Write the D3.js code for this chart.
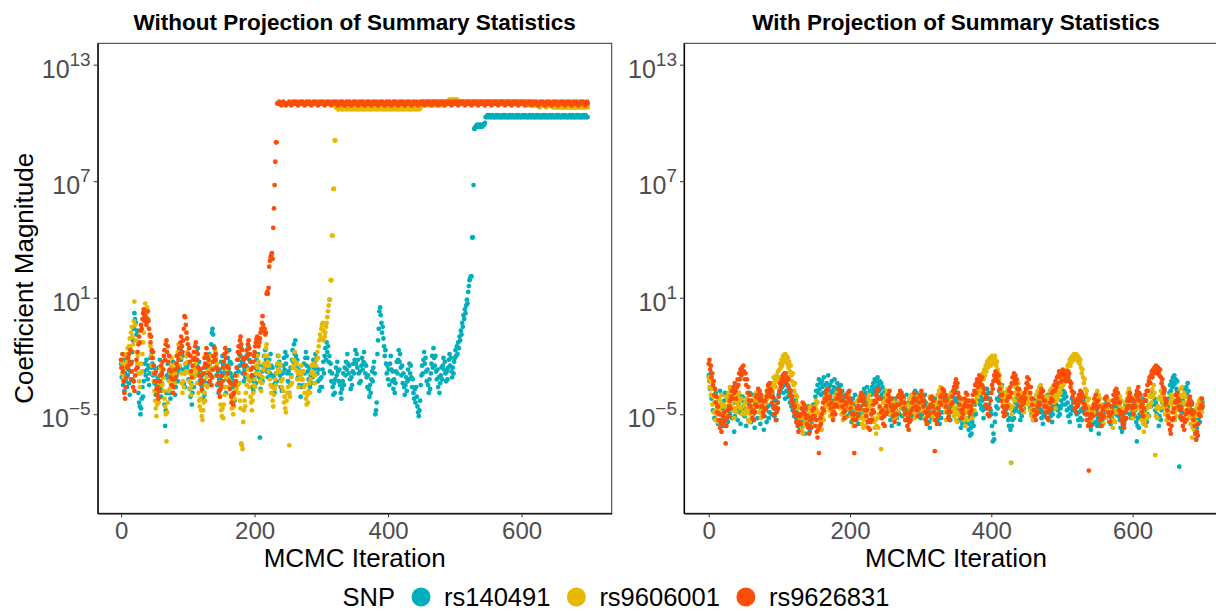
<!DOCTYPE html>
<html>
  <head>
    <meta http-equiv="Content-Type" content="text/html;charset=utf-8">
    <title>Coefficient magnitude by MCMC iteration</title>
    <script src="https://cdn.jsdelivr.net/npm/d3@7"></script>
    <style type="text/css">
body {
    margin: 0;
    background: #fff;
}
svg text {
    font-family: "Liberation Sans", Arial, Helvetica, sans-serif;
}
.border {
    fill: none;
    stroke: #333;
    stroke-width: 1px;
}
.axis path {
    stroke: #000;
    stroke-width: 1.2px;
}
.axis line {
    stroke: #333;
    stroke-width: 1px;
}
    </style>
  </head>
  <body>
    <script type="text/javascript">
// ---- data: log10 of coefficient magnitude at each MCMC iteration (0..699) ----
var iterStep = 1;
var snps = ['rs140491', 'rs9606001', 'rs9626831'];
var snpColors = ['#00AFBB', '#E7B800', '#FC4E07'];
var panelTitles = ['Without Projection of Summary Statistics', 'With Projection of Summary Statistics'];
var xTicks = [0, 200, 400, 600];
var yTickExps = [-5, 1, 7, 13];

// without projection
var noProj140491 = [
  -2.4,-3.1,-2.6,-3.5,-2.2,-3.8,-2.9,-3.3,-2.5,-3.6,-3.0,-2.7,-3.4,-4.0,-2.8,-3.2,-2.3,-1.8,-1.2,-0.6,0.2,-0.1,-0.3,-0.9,-0.7,-2.6,-3.9,-4.4,-4.6,-5.0,-4.7,-4.2,-3.6,-4.1,-3.3,-2.8,-2.4,-3.0,-2.2,-2.7,-3.2,-2.5,-3.5,-2.9,-2.1,-2.6,-1.8,-2.4,-3.0,-2.6,
  -3.4,-2.9,-4.0,-3.5,-4.3,-3.1,-2.6,-3.3,-2.2,-3.6,-4.1,-3.4,-3.8,-2.7,-3.1,-4.5,-5.6,-4.8,-3.9,-3.0,-2.4,-3.2,-2.8,-3.9,-4.2,-3.5,-2.7,-3.1,-2.3,-2.9,-3.4,-4.0,-3.6,-3.0,-2.5,-3.3,-2.8,-2.1,-2.6,-1.7,-2.2,-1.5,-2.0,-2.7,-3.4,-2.9,-3.6,-2.5,-2.0,-2.6,
  -2.4,-3.2,-2.8,-3.7,-4.1,-3.4,-4.5,-3.9,-3.1,-3.6,-2.6,-3.0,-2.2,-1.8,-2.5,-1.6,-2.9,-2.3,-3.3,-2.7,-3.5,-3.0,-3.8,-4.2,-3.3,-4.0,-3.5,-2.9,-3.4,-2.6,-2.1,-2.7,-1.9,-2.4,-2.0,-1.4,-0.8,-0.6,-0.9,-1.5,-2.0,-2.6,-2.2,-3.0,-3.5,-2.8,-3.9,-3.2,-2.7,-3.1,
  -2.3,-2.9,-2.0,-2.5,-3.0,-3.6,-2.8,-3.9,-3.2,-2.6,-2.1,-2.7,-1.7,-2.3,-2.9,-2.4,-3.1,-3.6,-4.0,-3.3,-4.3,-3.5,-2.9,-3.4,-2.6,-2.2,-2.8,-1.9,-2.5,-2.0,-1.6,-2.3,-2.9,-2.4,-3.3,-2.7,-3.1,-2.5,-2.0,-2.6,-1.9,-1.5,-2.2,-2.7,-2.3,-3.1,-3.6,-3.0,-3.8,-3.3,
  -3.0,-2.6,-3.4,-2.2,-2.8,-1.9,-2.5,-3.1,-6.2,-3.7,-3.2,-2.8,-3.3,-2.5,-2.0,-2.6,-1.7,-2.2,-2.8,-2.4,-3.1,-2.7,-2.2,-2.9,-1.9,-2.5,-3.0,-2.6,-3.5,-3.1,-3.9,-3.4,-2.9,-3.3,-2.5,-2.0,-2.7,-2.3,-3.0,-3.6,-3.2,-3.8,-2.9,-2.5,-2.1,-2.7,-1.8,-2.4,-2.0,-2.9,
  -3.3,-2.8,-3.9,-3.4,-2.6,-3.0,-2.2,-1.7,-2.3,-1.4,-1.9,-1.2,-2.0,-2.6,-2.2,-3.1,-2.7,-3.5,-3.0,-4.1,-3.6,-3.2,-2.8,-3.5,-2.4,-2.9,-2.1,-1.8,-2.5,-2.1,-2.8,-3.2,-2.6,-3.6,-3.0,-3.4,-2.5,-3.1,-2.2,-2.7,-2.3,-1.9,-2.6,-2.1,-2.9,-3.3,-2.7,-3.8,-3.2,-3.6,
  -3.1,-3.6,-2.7,-2.3,-2.9,-2.0,-1.6,-2.2,-1.3,-1.8,-1.5,-2.3,-2.0,-2.8,-2.4,-3.3,-2.9,-3.6,-4.0,-3.4,-3.9,-3.2,-2.6,-3.0,-2.3,-2.8,-3.3,-2.7,-3.5,-3.9,-4.2,-3.7,-3.3,-2.9,-3.5,-2.6,-3.0,-2.3,-2.7,-1.9,-2.4,-2.9,-2.5,-3.2,-3.7,-3.1,-3.5,-2.8,-2.4,-2.9,
  -2.2,-1.7,-2.4,-1.9,-2.6,-2.2,-2.9,-3.4,-2.8,-3.3,-2.5,-2.1,-2.7,-2.3,-1.8,-2.4,-2.9,-2.5,-3.1,-3.6,-3.0,-3.7,-4.1,-3.5,-3.9,-3.2,-2.8,-3.3,-2.6,-2.3,-2.9,-5.0,-4.8,-4.4,-1.9,-1.2,-0.6,0.3,0.5,0.1,-0.3,-0.8,-0.5,-1.1,-1.5,-2.0,-1.7,-2.4,-2.9,-2.5,
  -3.2,-2.7,-3.5,-2.4,-2.0,-2.7,-3.3,-2.8,-3.7,-3.2,-3.9,-3.4,-2.8,-2.3,-2.9,-2.2,-1.7,-2.3,-1.9,-2.6,-3.0,-2.5,-3.4,-2.9,-3.6,-4.0,-3.5,-3.1,-3.8,-3.3,-2.7,-3.2,-2.4,-2.9,-2.5,-3.1,-3.6,-3.2,-3.9,-4.2,-3.7,-4.4,-3.6,-4.1,-4.6,-4.9,-5.1,-4.8,-4.3,-3.5,
  -3.0,-2.5,-2.9,-2.2,-1.8,-2.4,-2.1,-2.8,-3.3,-2.7,-3.5,-3.9,-3.2,-3.7,-2.9,-2.4,-2.0,-2.6,-1.6,-2.1,-2.5,-2.0,-2.8,-3.2,-2.7,-3.6,-3.1,-3.9,-3.4,-3.0,-2.6,-3.2,-2.5,-2.1,-2.7,-2.3,-2.9,-3.3,-2.8,-3.2,-2.6,-2.2,-1.9,-2.5,-2.1,-2.8,-3.1,-2.6,-2.9,-2.3,
  -2.1,-1.7,-2.0,-1.5,-1.9,-1.3,-1.6,-1.0,-1.2,-0.7,-0.9,-0.3,-0.5,0.1,-0.1,0.4,0.2,0.6,0.9,0.7,1.3,1.6,1.9,2.0,2.1,2.1,4.1,4.1,6.8,9.7,9.7,9.8,9.8,9.9,9.9,9.8,9.9,9.9,9.8,9.9,9.9,9.8,9.9,9.9,9.9,10.0,10.3,10.3,10.3,10.4,
  10.3,10.3,10.4,10.3,10.3,10.3,10.4,10.3,10.3,10.3,10.3,10.3,10.4,10.3,10.3,10.3,10.4,10.3,10.3,10.3,10.3,10.3,10.4,10.3,10.3,10.3,10.4,10.3,10.3,10.3,10.3,10.3,10.4,10.3,10.3,10.3,10.4,10.3,10.3,10.3,10.3,10.3,10.4,10.3,10.3,10.3,10.4,10.3,10.3,10.3,
  10.3,10.3,10.4,10.3,10.3,10.3,10.4,10.3,10.3,10.3,10.3,10.3,10.4,10.3,10.3,10.3,10.4,10.3,10.3,10.3,10.3,10.3,10.4,10.3,10.3,10.3,10.4,10.3,10.3,10.3,10.3,10.3,10.4,10.3,10.3,10.3,10.4,10.3,10.3,10.3,10.3,10.3,10.4,10.3,10.3,10.3,10.4,10.3,10.3,10.3,
  10.3,10.3,10.4,10.3,10.3,10.3,10.4,10.3,10.3,10.3,10.3,10.3,10.4,10.3,10.3,10.3,10.4,10.3,10.3,10.3,10.3,10.3,10.4,10.3,10.3,10.3,10.4,10.3,10.3,10.3,10.3,10.3,10.4,10.3,10.3,10.3,10.4,10.3,10.3,10.3,10.3,10.3,10.4,10.3,10.3,10.3,10.4,10.3,10.3,10.3
];
var noProj9606001 = [
  -2.6,-2.3,-2.9,-2.4,-3.1,-2.6,-2.0,-2.5,-1.9,-2.3,-1.6,-2.1,-1.5,-1.1,-1.6,-0.8,-0.5,-1.0,-1.4,-0.2,0.8,-0.4,-1.2,-1.8,-2.4,-2.0,-2.9,-3.3,-3.6,-2.9,-2.4,-2.8,-1.9,-1.3,-0.8,-0.2,0.7,0.4,0.2,0.5,0.3,-0.1,-0.6,-1.0,-1.5,-2.0,-2.5,-2.1,-2.9,-3.3,
  -3.8,-4.3,-4.7,-5.1,-4.5,-3.9,-4.4,-3.5,-3.0,-2.6,-3.3,-2.8,-3.5,-3.1,-3.8,-4.2,-4.6,-5.0,-6.4,-4.9,-4.4,-3.8,-3.3,-3.7,-2.9,-2.5,-2.1,-2.6,-3.0,-2.7,-3.4,-2.9,-2.4,-2.0,-2.6,-1.8,-1.4,-2.0,-2.5,-2.1,-2.9,-3.4,-3.9,-3.3,-3.6,-2.9,-2.4,-2.8,-2.0,-1.8,
  -2.3,-2.8,-3.3,-2.9,-3.7,-4.0,-3.5,-3.0,-2.6,-3.1,-2.2,-2.7,-2.4,-2.9,-3.4,-3.0,-3.9,-4.3,-4.6,-4.2,-4.8,-5.1,-5.3,-4.8,-4.4,-3.9,-4.3,-3.5,-3.1,-3.6,-2.8,-2.4,-2.0,-2.6,-2.3,-3.0,-3.5,-3.1,-2.7,-2.2,-2.6,-1.8,-2.1,-2.6,-2.4,-3.0,-3.4,-3.8,-4.1,-4.5,
  -4.8,-5.1,-4.7,-5.2,-4.5,-4.0,-3.6,-3.1,-2.7,-3.0,-2.5,-3.2,-3.6,-3.3,-4.0,-4.4,-4.7,-4.3,-5.0,-4.6,-4.2,-3.8,-3.3,-3.7,-3.0,-3.5,-3.9,-3.4,-4.3,-4.7,-6.5,-6.6,-6.8,-5.4,-4.8,-4.3,-4.6,-3.9,-3.5,-3.0,-2.7,-3.2,-3.6,-3.3,-4.1,-4.4,-4.8,-4.3,-3.9,-3.5,
  -3.2,-3.6,-2.9,-2.5,-2.0,-2.6,-2.3,-2.9,-3.3,-3.0,-3.8,-3.4,-3.1,-2.7,-2.4,-2.0,-2.5,-1.6,-1.4,-2.0,-2.3,-2.8,-2.5,-3.2,-3.5,-3.9,-3.6,-4.3,-4.6,-4.0,-3.7,-3.2,-3.5,-2.9,-2.4,-2.7,-2.0,-2.4,-2.8,-2.5,-3.3,-3.6,-3.2,-3.8,-4.4,-4.1,-4.7,-4.9,-4.3,-3.9,
  -3.6,-3.9,-6.6,-4.1,-3.5,-3.1,-3.4,-2.6,-2.2,-2.5,-1.8,-2.3,-2.7,-2.4,-3.2,-2.9,-3.6,-3.2,-2.8,-3.1,-2.5,-2.9,-3.2,-2.8,-3.6,-3.9,-3.5,-4.2,-4.5,-4.0,-4.4,-3.8,-3.4,-3.9,-3.2,-2.9,-2.5,-2.8,-2.4,-3.0,-3.4,-3.0,-2.5,-2.2,-1.8,-2.1,-1.5,-1.2,-0.9,-1.1,
  -0.6,-0.4,-0.3,-0.7,-1.2,-1.0,-0.8,-0.5,-0.3,0.0,0.3,0.6,0.9,0.9,1.9,1.9,4.2,4.2,6.6,6.6,9.1,9.1,10.8,10.8,10.8,10.7,10.7,10.8,10.8,10.8,10.8,10.7,10.7,10.8,10.8,10.8,10.8,10.7,10.8,10.8,10.7,10.8,10.8,10.8,10.7,10.8,10.8,10.7,10.8,10.8,
  10.8,10.7,10.8,10.8,10.7,10.8,10.8,10.7,10.8,10.8,10.8,10.7,10.8,10.8,10.7,10.8,10.8,10.7,10.8,10.8,10.8,10.7,10.8,10.8,10.7,10.8,10.8,10.7,10.8,10.8,10.8,10.7,10.8,10.8,10.7,10.8,10.8,10.7,10.8,10.8,10.8,10.7,10.8,10.8,10.7,10.8,10.8,10.7,10.8,10.8,
  10.8,10.7,10.8,10.8,10.7,10.8,10.8,10.7,10.8,10.8,10.8,10.7,10.8,10.8,10.7,10.8,10.8,10.7,10.8,10.8,10.8,10.7,10.8,10.8,10.7,10.8,10.8,10.7,10.8,10.8,10.8,10.7,10.8,10.8,10.7,10.8,10.8,10.7,10.8,10.8,10.8,10.7,10.8,10.8,10.7,10.8,10.8,10.7,10.8,10.8,
  10.9,11.0,11.0,11.1,11.0,11.0,11.1,11.0,11.0,11.1,10.9,11.0,11.0,11.1,11.0,11.0,11.1,11.0,11.0,11.1,10.9,11.0,11.0,11.1,11.0,11.0,11.1,11.0,11.0,11.1,10.9,11.0,11.0,11.1,11.0,11.0,11.1,11.0,11.0,11.1,11.0,11.1,11.2,11.1,11.2,11.1,11.2,11.1,11.2,11.1,
  11.2,11.1,11.2,11.1,11.2,11.1,11.1,11.0,11.1,11.0,11.0,11.1,11.0,11.0,11.1,11.0,11.0,11.1,11.0,11.0,11.0,11.1,11.0,11.0,11.1,11.0,11.0,11.1,11.0,11.0,11.0,11.1,11.0,11.0,11.1,11.0,11.0,11.1,11.0,11.0,11.0,11.1,11.0,11.0,11.1,11.0,11.0,11.1,11.0,11.0,
  11.1,11.0,11.0,11.1,11.0,11.0,11.1,11.0,11.0,11.1,11.1,11.0,11.0,11.1,11.0,11.0,11.1,11.0,11.0,11.1,11.1,11.0,11.0,11.1,11.0,11.0,11.1,11.0,11.0,11.1,11.1,11.0,11.0,11.1,11.0,11.0,11.1,11.0,11.0,11.1,11.1,11.0,11.0,11.1,11.0,11.0,11.1,11.0,11.0,11.1,
  11.0,11.0,11.1,11.0,11.0,11.1,11.0,11.0,11.0,10.9,11.0,11.0,11.1,11.0,11.0,11.1,11.0,11.0,11.0,10.9,11.0,10.9,10.9,11.0,10.9,10.9,10.9,10.8,10.9,10.9,11.0,10.9,10.9,11.0,10.9,10.9,10.9,10.8,10.9,10.9,11.0,10.9,10.9,11.0,10.9,10.9,10.9,10.8,10.9,10.9,
  10.9,10.8,10.9,10.9,10.8,10.9,10.8,10.9,10.9,10.8,10.9,10.8,10.9,10.9,10.8,10.9,10.8,10.9,10.9,10.8,10.9,10.8,10.9,10.9,10.8,10.9,10.8,10.9,10.9,10.8,10.9,10.8,10.9,10.9,10.8,10.9,10.8,10.9,10.9,10.8,10.9,10.8,10.9,10.9,10.8,10.9,10.8,10.9,10.9,10.8
];
var noProj9626831 = [
  -2.2,-2.6,-1.9,-2.8,-3.3,-3.9,-4.2,-3.6,-3.1,-2.6,-2.1,-2.5,-1.9,-2.3,-1.7,-2.4,-2.8,-3.2,-3.6,-3.3,-3.8,-3.0,-2.7,-2.2,-2.6,-1.8,-1.4,-1.0,-1.3,-0.7,-0.4,-0.6,-0.1,0.2,0.4,0.1,-0.2,0.0,-0.4,-0.1,0.3,-0.2,-0.6,-0.9,-1.3,-1.0,-1.7,-2.1,-1.8,-2.5,
  -2.9,-3.3,-2.8,-3.7,-4.0,-3.6,-4.2,-3.8,-3.3,-3.0,-2.5,-2.9,-2.3,-2.7,-2.0,-1.7,-2.2,-1.4,-1.2,-1.8,-1.5,-2.3,-2.0,-2.7,-3.1,-2.8,-3.5,-3.2,-3.9,-3.6,-3.2,-2.7,-3.1,-2.4,-2.0,-2.6,-2.2,-1.6,-1.9,-1.3,-1.0,-1.5,-1.8,-1.2,-0.6,0.05,0.0,-0.4,-0.8,-1.1,
  -1.4,-1.9,-1.6,-2.3,-2.0,-2.8,-3.1,-2.5,-2.2,-1.8,-2.1,-1.5,-1.3,-1.8,-2.2,-1.9,-2.6,-3.0,-2.7,-3.4,-3.2,-3.7,-3.3,-2.9,-2.6,-2.1,-2.4,-1.9,-1.6,-2.0,-2.5,-2.2,-2.9,-3.3,-3.0,-3.5,-3.1,-2.7,-2.3,-2.0,-1.6,-2.2,-1.9,-2.6,-3.0,-2.7,-3.4,-3.8,-4.1,-3.7,
  -3.5,-3.0,-3.3,-2.6,-2.3,-1.9,-1.6,-2.1,-1.8,-2.5,-2.9,-2.6,-3.3,-3.7,-3.4,-4.1,-4.4,-4.0,-4.5,-3.9,-3.5,-3.0,-3.3,-2.6,-2.2,-1.8,-1.5,-1.9,-1.2,-1.0,-1.4,-1.7,-2.1,-2.5,-2.2,-2.9,-2.5,-2.1,-1.7,-2.0,-1.4,-1.2,-1.6,-1.9,-2.3,-2.7,-3.0,-2.6,-2.3,-2.0,
  -1.8,-1.5,-1.3,-1.1,-1.0,-1.2,-1.5,-1.3,-1.1,-0.8,-0.6,-0.3,0.05,-0.4,-0.7,-0.6,-0.9,-0.8,1.2,1.3,1.2,1.5,2.6,2.9,3.1,3.2,3.3,3.0,4.6,5.6,6.8,8.0,9.0,9.0,11.0,11.0,11.0,11.1,11.0,11.0,10.9,11.0,11.0,11.1,11.0,11.0,11.0,10.9,11.0,11.0,
  11.0,11.0,11.1,11.0,11.0,10.9,11.0,11.0,11.1,11.0,11.0,11.0,11.1,11.0,11.0,10.9,11.0,11.0,11.1,11.0,11.0,11.0,11.1,11.0,11.0,10.9,11.0,11.0,11.1,11.0,11.0,11.0,11.1,11.0,11.0,10.9,11.0,11.0,11.1,11.0,11.0,11.0,11.1,11.0,11.0,10.9,11.0,11.0,11.1,11.0,
  11.0,11.0,11.1,11.0,11.0,10.9,11.0,11.0,11.1,11.0,11.0,11.0,11.1,11.0,11.0,10.9,11.0,11.0,11.1,11.0,11.0,11.0,11.1,11.0,11.0,10.9,11.0,11.0,11.1,11.0,11.0,11.0,11.1,11.0,11.0,10.9,11.0,11.0,11.1,11.0,11.0,11.0,11.1,11.0,11.0,10.9,11.0,11.0,11.1,11.0,
  11.0,11.0,11.1,11.0,11.0,10.9,11.0,11.0,11.1,11.0,11.0,11.0,11.1,11.0,11.0,10.9,11.0,11.0,11.1,11.0,11.0,11.0,11.1,11.0,11.0,10.9,11.0,11.0,11.1,11.0,11.0,11.0,11.1,11.0,11.0,10.9,11.0,11.0,11.1,11.0,11.0,11.0,11.1,11.0,11.0,10.9,11.0,11.0,11.1,11.0,
  11.0,11.0,11.1,11.0,11.0,10.9,11.0,11.0,11.1,11.0,11.0,11.0,11.1,11.0,11.0,10.9,11.0,11.0,11.1,11.0,11.0,11.0,11.1,11.0,11.0,10.9,11.0,11.0,11.1,11.0,11.0,11.0,11.1,11.0,11.0,10.9,11.0,11.0,11.1,11.0,11.0,11.0,11.1,11.0,11.0,10.9,11.0,11.0,11.1,11.0,
  11.0,11.0,11.1,11.0,11.0,10.9,11.0,11.0,11.1,11.0,11.0,11.0,11.1,11.0,11.0,10.9,11.0,11.0,11.1,11.0,11.0,11.0,11.1,11.0,11.0,10.9,11.0,11.0,11.1,11.0,11.0,11.0,11.1,11.0,11.0,10.9,11.0,11.0,11.1,11.0,11.0,11.0,11.1,11.0,11.0,10.9,11.0,11.0,11.1,11.0,
  11.0,11.0,11.1,11.0,11.0,10.9,11.0,11.0,11.1,11.0,11.0,11.0,11.1,11.0,11.0,10.9,11.0,11.0,11.1,11.0,11.0,11.0,11.1,11.0,11.0,10.9,11.0,11.0,11.1,11.0,11.0,11.0,11.1,11.0,11.0,10.9,11.0,11.0,11.1,11.0,11.0,11.0,11.1,11.0,11.0,10.9,11.0,11.0,11.1,11.0,
  11.0,11.0,11.1,11.0,11.0,10.9,11.0,11.0,11.1,11.0,11.0,11.0,11.1,11.0,11.0,10.9,11.0,11.0,11.1,11.0,11.0,11.0,11.1,11.0,11.0,10.9,11.0,11.0,11.1,11.0,11.0,11.0,11.1,11.0,11.0,10.9,11.0,11.0,11.1,11.0,11.0,11.0,11.1,11.0,11.0,10.9,11.0,11.0,11.1,11.0,
  11.0,11.0,11.1,11.0,11.0,10.9,11.0,11.0,11.1,11.0,11.0,11.0,11.1,11.0,11.0,10.9,11.0,11.0,11.1,11.0,11.0,11.0,11.1,11.0,11.0,10.9,11.0,11.0,11.1,11.0,11.0,11.0,11.1,11.0,11.0,10.9,11.0,11.0,11.1,11.0,11.0,11.0,11.1,11.0,11.0,10.9,11.0,11.0,11.1,11.0,
  11.0,11.0,11.1,11.0,11.0,10.9,11.0,11.0,11.1,11.0,11.0,11.0,11.1,11.0,11.0,10.9,11.0,11.0,11.1,11.0,11.0,11.0,11.1,11.0,11.0,10.9,11.0,11.0,11.1,11.0,11.0,11.0,11.1,11.0,11.0,10.9,11.0,11.0,11.1,11.0,11.0,11.0,11.1,11.0,11.0,10.9,11.0,11.0,11.1,11.0
];

// with projection
var proj140491 = [
  -3.0,-3.3,-3.7,-2.9,-4.2,-3.6,-4.8,-4.1,-5.2,-4.4,-3.9,-5.0,-4.6,-5.5,-4.2,-4.9,-3.8,-4.5,-5.3,-4.0,-4.7,-5.6,-4.3,-3.9,-5.1,-4.6,-4.0,-5.4,-4.8,-4.2,-5.0,-3.7,-4.5,-5.2,-4.1,-4.8,-5.9,-5.1,-4.4,-3.9,-4.7,-5.3,-4.5,-4.0,-4.9,-5.5,-4.3,-4.8,-4.1,-5.0,
  -4.4,-5.1,-4.7,-5.6,-4.2,-4.9,-5.3,-4.5,-3.9,-4.8,-5.4,-4.6,-4.0,-5.0,-4.3,-5.7,-4.9,-4.1,-4.6,-5.2,-4.4,-3.8,-4.9,-5.5,-4.7,-4.2,-5.0,-4.5,-5.8,-5.1,-4.3,-4.8,-5.4,-4.0,-4.6,-5.2,-4.9,-4.1,-4.5,-5.0,-3.9,-4.6,-4.2,-5.1,-4.7,-4.3,-5.3,-4.8,-4.4,-4.0,
  -3.9,-3.4,-3.7,-3.1,-3.6,-3.3,-3.9,-3.5,-4.2,-3.2,-3.8,-3.5,-4.1,-3.6,-3.9,-4.4,-4.0,-4.6,-4.2,-4.8,-4.5,-5.1,-4.7,-4.3,-5.2,-4.9,-5.5,-4.6,-5.0,-5.8,-5.3,-4.7,-5.1,-5.6,-4.9,-5.4,-6.0,-5.2,-4.8,-5.5,-5.0,-4.6,-5.3,-5.9,-5.1,-4.7,-5.4,-5.0,-4.5,-5.2,
  -4.6,-4.1,-3.8,-4.4,-3.5,-3.9,-3.2,-3.7,-3.4,-4.0,-3.3,-3.6,-3.9,-3.1,-3.5,-4.2,-3.8,-3.4,-3.7,-3.0,-3.6,-4.1,-3.5,-3.9,-3.3,-3.8,-4.3,-3.6,-3.2,-3.9,-4.4,-3.7,-3.4,-4.0,-3.6,-4.5,-3.9,-3.5,-4.1,-3.8,-4.6,-4.2,-4.9,-4.4,-4.0,-4.7,-5.1,-4.3,-4.8,-4.2,
  -5.0,-4.6,-5.4,-4.9,-4.2,-5.1,-4.5,-4.0,-4.8,-5.3,-4.4,-4.9,-5.5,-4.7,-4.1,-4.6,-5.0,-4.3,-4.8,-4.0,-3.7,-4.4,-3.9,-4.2,-3.6,-4.1,-4.7,-4.3,-3.8,-4.5,-4.0,-3.6,-3.9,-3.4,-3.8,-3.2,-3.6,-3.3,-3.9,-3.1,-3.5,-3.8,-3.3,-3.7,-3.4,-4.0,-3.6,-4.2,-3.9,-4.4,
  -3.8,-4.3,-4.0,-4.7,-4.4,-5.0,-4.6,-5.3,-4.9,-5.6,-5.1,-4.5,-5.0,-4.6,-4.2,-4.8,-5.2,-4.4,-4.9,-5.5,-5.0,-4.4,-4.1,-4.7,-5.1,-4.6,-4.2,-4.8,-5.3,-4.5,-4.0,-4.7,-5.0,-4.4,-5.4,-4.9,-4.3,-4.6,-5.1,-4.5,-4.0,-4.5,-3.8,-4.2,-3.9,-4.5,-4.1,-4.8,-4.4,-5.0,
  -5.2,-4.7,-5.0,-4.5,-4.1,-4.6,-4.0,-4.4,-4.9,-4.5,-5.1,-4.8,-5.4,-5.7,-5.0,-4.6,-5.2,-4.8,-4.3,-4.7,-4.2,-4.6,-4.4,-4.9,-5.3,-4.7,-5.0,-5.5,-4.9,-5.2,-4.5,-4.9,-4.3,-4.1,-4.6,-4.0,-4.4,-4.8,-4.2,-4.7,-5.1,-4.6,-5.3,-4.8,-4.4,-4.7,-4.1,-3.9,-4.3,-3.8,
  -4.2,-4.7,-4.4,-5.0,-4.6,-5.3,-5.0,-5.7,-5.2,-5.5,-4.9,-5.3,-4.7,-4.4,-4.9,-5.4,-4.8,-5.2,-5.8,-5.5,-6.1,-5.7,-6.0,-5.4,-5.1,-5.6,-4.9,-4.5,-5.0,-4.4,-4.1,-3.8,-4.3,-3.9,-4.5,-4.1,-4.7,-4.3,-4.8,-5.2,-4.6,-4.2,-4.7,-4.0,-3.7,-4.2,-3.9,-4.5,-4.2,-4.8,
  -5.0,-5.6,-6.4,-6.0,-6.3,-5.4,-5.0,-4.6,-4.2,-4.7,-4.3,-3.8,-4.1,-3.6,-3.9,-3.5,-4.0,-4.4,-3.9,-4.3,-4.8,-4.5,-5.0,-4.7,-5.3,-5.6,-5.2,-5.8,-7.5,-5.6,-5.3,-4.9,-5.2,-4.7,-4.4,-4.8,-4.2,-4.6,-4.0,-4.5,-4.9,-5.3,-4.8,-5.1,-4.6,-4.3,-4.7,-4.2,-3.9,-4.4,
  -3.8,-4.2,-3.9,-4.5,-4.1,-4.7,-4.4,-5.0,-4.6,-5.3,-4.9,-4.5,-4.9,-4.3,-4.0,-4.5,-3.8,-4.2,-4.7,-4.4,-4.9,-5.2,-4.8,-5.5,-5.1,-4.6,-5.0,-4.5,-4.1,-4.6,-4.0,-4.4,-4.9,-4.5,-5.1,-4.8,-5.4,-5.0,-4.6,-4.3,-4.7,-4.1,-4.5,-4.2,-4.8,-5.1,-4.6,-5.0,-4.7,-4.3,
  -4.0,-4.5,-3.8,-4.2,-3.9,-4.5,-4.1,-4.8,-4.4,-5.1,-4.7,-5.4,-5.0,-4.6,-4.2,-4.8,-4.4,-3.9,-4.3,-4.7,-4.4,-5.0,-4.6,-5.3,-4.9,-5.6,-5.2,-4.8,-5.3,-4.7,-4.3,-4.9,-4.5,-4.1,-4.6,-5.0,-4.7,-5.3,-4.9,-5.5,-5.1,-5.8,-5.4,-5.0,-5.5,-4.9,-4.5,-5.0,-5.4,-4.8,
  -5.6,-5.2,-6.0,-5.5,-5.1,-5.6,-4.9,-5.3,-4.7,-5.0,-4.5,-4.2,-4.7,-4.3,-4.8,-4.4,-4.9,-5.4,-5.0,-5.5,-4.9,-5.2,-4.6,-4.3,-4.8,-4.4,-5.0,-4.6,-4.2,-4.8,-5.1,-4.6,-5.3,-5.7,-5.2,-5.9,-5.4,-5.0,-5.5,-4.9,-4.5,-4.9,-4.3,-4.7,-4.2,-4.6,-5.0,-4.5,-5.2,-4.8,
  -4.4,-4.9,-4.5,-5.1,-4.8,-5.4,-6.4,-5.6,-5.2,-5.7,-5.0,-4.6,-5.1,-4.5,-4.2,-4.7,-4.3,-4.8,-5.2,-4.7,-5.4,-5.0,-4.6,-5.1,-4.5,-4.1,-4.6,-4.0,-4.4,-3.9,-4.5,-4.2,-4.8,-4.4,-5.0,-4.6,-5.2,-5.6,-5.1,-4.7,-5.3,-4.8,-4.4,-4.0,-4.5,-3.8,-4.3,-4.7,-4.4,-5.0,
  -4.6,-4.2,-3.9,-3.5,-3.8,-3.3,-3.6,-3.1,-3.5,-3.0,-3.4,-3.2,-3.7,-3.3,-3.9,-4.4,-7.7,-4.8,-5.2,-4.6,-4.9,-4.3,-4.0,-4.5,-3.7,-4.1,-3.6,-3.9,-3.4,-3.8,-4.2,-4.6,-4.3,-4.9,-4.5,-5.2,-4.8,-5.6,-5.3,-6.0,-6.3,-5.7,-6.1,-5.2,-4.9,-5.4,-4.6,-4.2,-4.7,-4.4
];
var proj9606001 = [
  -3.1,-3.6,-3.3,-4.0,-3.7,-4.5,-4.1,-4.9,-4.4,-5.3,-4.8,-5.0,-4.5,-5.4,-4.7,-4.2,-4.9,-4.4,-4.0,-4.6,-5.1,-4.5,-5.5,-5.0,-4.6,-4.1,-4.7,-4.3,-3.9,-4.4,-3.6,-4.1,-3.8,-4.5,-4.1,-4.8,-5.2,-4.7,-4.3,-4.9,-4.4,-4.0,-4.6,-3.9,-4.3,-4.7,-4.2,-5.0,-4.6,-4.9,
  -4.5,-5.0,-4.4,-4.8,-4.2,-4.7,-5.3,-4.9,-5.4,-5.0,-4.6,-5.1,-4.7,-4.3,-4.8,-4.1,-4.5,-3.9,-4.3,-4.0,-4.6,-4.2,-4.9,-4.5,-5.2,-4.8,-5.0,-4.6,-4.3,-4.8,-4.1,-4.4,-3.8,-4.2,-3.7,-4.1,-3.9,-3.5,-4.0,-3.6,-3.8,-3.4,-3.1,-3.5,-3.2,-3.6,-3.0,-3.3,-2.8,-3.1,
  -2.7,-2.4,-2.6,-2.2,-2.5,-2.0,-2.3,-2.1,-1.9,-2.2,-2.0,-2.4,-2.1,-2.6,-2.3,-2.8,-2.5,-3.0,-3.3,-2.9,-3.5,-3.8,-3.4,-4.0,-4.4,-4.1,-4.7,-5.0,-4.6,-5.2,-5.5,-5.1,-5.8,-6.0,-5.5,-5.2,-5.6,-4.9,-5.3,-5.0,-5.5,-5.1,-4.7,-5.2,-4.6,-4.9,-5.3,-5.0,-5.6,-5.2,
  -5.0,-4.6,-4.3,-4.8,-4.4,-4.9,-5.3,-5.0,-5.7,-5.4,-5.8,-5.2,-4.8,-5.3,-4.9,-4.5,-4.1,-4.6,-4.2,-4.0,-4.4,-4.8,-5.1,-4.7,-4.4,-4.9,-5.2,-4.8,-4.5,-4.1,-4.4,-3.9,-4.2,-4.5,-3.9,-4.3,-4.7,-4.4,-5.0,-4.6,-5.3,-5.0,-4.7,-5.2,-4.5,-4.8,-4.2,-4.5,-4.0,-4.4,
  -4.7,-5.1,-4.6,-5.3,-5.0,-5.6,-5.3,-5.0,-4.7,-4.4,-4.8,-4.3,-4.6,-4.1,-4.7,-5.2,-4.8,-5.5,-5.1,-5.7,-5.3,-5.0,-5.6,-4.9,-4.6,-4.2,-4.5,-4.0,-4.4,-4.7,-4.3,-4.9,-5.2,-4.8,-5.4,-5.7,-5.3,-6.0,-5.6,-5.2,-5.7,-5.0,-4.7,-5.1,-6.8,-5.2,-4.8,-4.4,-4.7,-4.3,
  -4.0,-4.4,-3.8,-4.2,-4.6,-4.1,-4.5,-5.0,-4.6,-4.2,-4.7,-4.3,-4.8,-5.2,-4.7,-5.1,-4.5,-4.9,-4.4,-4.0,-4.5,-4.1,-3.9,-4.3,-4.7,-4.2,-4.6,-5.0,-4.5,-5.3,-4.9,-4.5,-5.0,-4.6,-4.2,-4.7,-4.3,-4.0,-4.5,-4.8,-4.3,-4.9,-5.2,-4.7,-5.0,-4.5,-4.1,-4.6,-4.2,-4.8,
  -4.0,-4.4,-4.1,-4.7,-4.3,-4.9,-5.2,-4.8,-5.5,-5.1,-4.7,-5.0,-4.5,-4.1,-4.6,-4.2,-4.7,-5.1,-4.6,-5.3,-4.9,-4.5,-4.9,-4.4,-4.0,-4.5,-3.8,-4.2,-3.6,-4.1,-3.9,-4.4,-4.0,-4.6,-4.3,-4.9,-5.3,-4.8,-4.4,-4.9,-4.3,-4.0,-4.5,-3.9,-4.4,-4.8,-4.5,-5.1,-4.7,-5.0,
  -5.3,-4.9,-5.4,-5.0,-4.6,-5.1,-4.5,-4.2,-4.7,-4.3,-4.9,-5.3,-4.8,-5.6,-5.2,-4.9,-5.3,-4.7,-4.4,-4.9,-4.5,-5.0,-4.6,-5.2,-4.8,-4.4,-4.8,-4.3,-4.0,-4.4,-3.8,-4.1,-3.6,-3.9,-3.4,-3.7,-3.2,-3.5,-2.9,-3.2,-2.7,-3.0,-2.5,-2.8,-2.3,-2.6,-2.2,-2.4,-2.1,-2.5,
  -2.2,-2.0,-2.4,-2.1,-2.3,-2.0,-2.2,-2.5,-2.3,-2.7,-2.9,-3.2,-3.0,-3.5,-3.8,-3.6,-4.1,-4.4,-4.0,-4.6,-4.2,-3.9,-4.4,-3.7,-4.2,-4.5,-4.1,-4.7,-7.5,-5.0,-4.6,-4.2,-3.9,-4.3,-3.6,-4.0,-3.5,-3.8,-3.4,-3.9,-4.2,-3.8,-4.4,-4.0,-4.7,-4.3,-4.9,-4.5,-4.1,-4.4,
  -3.8,-4.3,-3.9,-4.5,-4.1,-4.8,-4.4,-5.1,-4.7,-5.3,-4.9,-4.5,-4.9,-4.4,-4.0,-4.5,-3.8,-4.2,-3.6,-4.0,-3.5,-3.9,-4.2,-3.8,-4.4,-4.1,-4.7,-4.3,-4.9,-4.5,-4.1,-4.6,-4.2,-3.8,-4.3,-3.7,-4.1,-3.6,-4.0,-4.4,-4.1,-4.7,-4.3,-3.9,-4.2,-3.7,-4.0,-3.6,-3.9,-3.5,
  -3.6,-3.3,-3.5,-3.1,-3.0,-2.8,-3.1,-2.7,-2.5,-2.8,-2.4,-2.2,-2.5,-2.1,-2.3,-2.0,-2.2,-1.9,-2.1,-2.0,-1.9,-2.2,-2.0,-2.3,-2.1,-2.4,-2.2,-2.6,-2.9,-2.7,-3.1,-3.4,-3.2,-3.7,-4.0,-3.8,-4.3,-4.6,-4.2,-4.8,-5.1,-4.7,-5.3,-5.0,-4.6,-4.9,-4.4,-4.1,-4.5,-4.0,
  -3.8,-4.3,-4.0,-4.6,-4.2,-4.9,-4.5,-5.2,-4.8,-5.5,-5.1,-4.7,-5.2,-4.6,-4.2,-4.7,-4.3,-4.8,-5.1,-4.6,-5.4,-5.0,-5.7,-5.3,-4.9,-5.4,-4.8,-4.4,-4.9,-4.3,-4.0,-4.5,-4.1,-4.7,-4.3,-4.9,-5.2,-4.7,-5.3,-4.8,-4.4,-4.8,-4.2,-3.9,-4.3,-3.7,-4.1,-4.5,-4.1,-4.7,
  -5.2,-4.8,-5.0,-4.6,-4.2,-4.7,-4.1,-4.4,-3.9,-4.3,-4.7,-4.3,-4.9,-5.3,-4.9,-5.5,-5.9,-5.4,-5.0,-5.6,-5.2,-4.7,-5.1,-4.5,-4.1,-4.6,-4.0,-4.4,-3.7,-4.1,-3.5,-3.9,-7.1,-5.1,-4.7,-5.2,-4.6,-4.2,-4.7,-4.1,-3.8,-4.3,-3.9,-4.5,-4.1,-4.7,-5.0,-4.6,-5.3,-5.0,
  -4.8,-4.4,-4.9,-4.3,-4.0,-4.5,-4.1,-4.7,-4.3,-4.9,-5.3,-4.8,-5.1,-4.6,-4.2,-4.7,-4.0,-4.4,-3.7,-4.1,-3.6,-4.0,-4.4,-3.9,-4.5,-4.1,-4.8,-4.4,-5.0,-4.6,-5.2,-4.8,-5.5,-5.1,-6.2,-5.7,-5.3,-5.8,-5.0,-5.4,-4.7,-5.1,-4.5,-4.9,-4.3,-4.7,-4.2,-4.6,-4.9,-4.5
];
var proj9626831 = [
  -2.4,-2.2,-2.7,-2.5,-3.1,-2.9,-3.5,-3.3,-4.0,-3.7,-4.4,-4.1,-4.9,-4.6,-5.3,-5.0,-5.7,-5.4,-5.9,-5.5,-5.1,-5.4,-4.9,-5.3,-6.5,-5.6,-5.2,-4.8,-5.1,-4.6,-4.3,-4.7,-4.1,-3.8,-4.2,-3.6,-3.9,-3.4,-3.8,-4.2,-3.6,-3.2,-3.5,-2.9,-3.2,-2.7,-3.0,-2.6,-2.9,-2.5,
  -2.8,-3.2,-2.9,-3.5,-3.2,-3.9,-3.6,-4.3,-4.0,-4.6,-4.3,-4.9,-5.2,-4.8,-5.3,-4.9,-4.5,-4.1,-4.6,-4.0,-3.7,-4.2,-3.8,-4.3,-4.0,-4.6,-4.3,-4.9,-5.1,-4.7,-4.3,-4.7,-4.1,-3.8,-3.5,-3.9,-3.4,-3.7,-4.1,-3.8,-4.4,-4.1,-4.7,-5.0,-4.6,-5.3,-4.9,-4.4,-4.7,-4.1,
  -3.8,-3.4,-3.6,-3.2,-3.4,-3.0,-3.3,-2.9,-3.2,-2.9,-3.3,-3.1,-3.5,-3.2,-3.7,-4.0,-3.8,-4.3,-4.1,-4.6,-4.4,-4.9,-4.6,-5.1,-5.4,-5.0,-5.6,-5.9,-5.4,-5.1,-5.5,-5.0,-4.7,-4.4,-4.8,-4.5,-5.0,-4.7,-5.2,-5.5,-5.1,-5.7,-6.0,-5.6,-5.3,-5.7,-5.2,-4.8,-5.1,-4.7,
  -5.1,-5.6,-5.3,-5.9,-6.2,-5.8,-7.0,-5.6,-5.2,-5.5,-5.0,-4.7,-4.4,-4.8,-4.2,-3.9,-4.3,-3.8,-4.1,-3.7,-4.2,-4.5,-4.1,-4.7,-4.4,-5.0,-5.3,-4.9,-4.6,-5.0,-4.5,-4.2,-4.6,-4.0,-3.7,-4.1,-3.8,-4.3,-4.0,-4.6,-4.3,-4.9,-5.2,-4.8,-4.5,-4.1,-4.4,-3.9,-4.2,-3.8,
  -4.2,-4.7,-4.4,-5.0,-5.3,-5.0,-7.0,-5.6,-5.3,-5.0,-4.7,-5.1,-4.6,-4.3,-4.7,-4.1,-3.9,-4.3,-4.0,-4.5,-4.2,-4.8,-4.5,-5.1,-4.8,-5.4,-5.7,-5.3,-5.8,-5.4,-5.0,-5.3,-4.8,-4.5,-4.9,-4.3,-4.0,-4.4,-3.8,-4.1,-3.7,-4.2,-4.6,-4.2,-4.9,-5.2,-4.8,-5.5,-5.1,-5.6,
  -5.0,-4.6,-4.9,-4.3,-4.0,-4.4,-3.8,-4.2,-4.6,-4.2,-4.8,-5.1,-4.7,-5.4,-5.0,-4.6,-5.0,-4.5,-4.1,-4.5,-4.0,-3.8,-4.2,-3.9,-4.4,-4.1,-4.7,-4.4,-5.0,-5.3,-4.9,-5.6,-5.2,-5.8,-5.4,-5.0,-5.3,-4.8,-4.4,-4.7,-4.2,-3.9,-4.3,-4.6,-4.2,-4.8,-5.1,-4.7,-4.4,-4.0,
  -4.1,-3.8,-4.3,-4.0,-4.6,-4.3,-4.9,-5.3,-4.9,-5.5,-5.1,-4.7,-5.0,-4.6,-4.2,-4.5,-4.1,-4.6,-4.3,-4.9,-6.9,-5.3,-5.0,-5.5,-5.1,-4.7,-5.0,-4.4,-4.1,-4.5,-4.0,-3.7,-4.1,-3.8,-4.3,-4.0,-4.6,-4.3,-4.9,-5.2,-4.8,-5.3,-4.9,-4.5,-4.1,-4.4,-3.8,-3.6,-3.9,-3.4,
  -3.2,-3.6,-3.4,-3.9,-4.1,-4.5,-4.2,-4.8,-5.2,-4.8,-5.0,-4.6,-4.2,-4.5,-3.9,-4.3,-4.0,-4.6,-4.3,-4.9,-5.0,-4.6,-4.8,-4.3,-4.0,-4.4,-3.8,-3.5,-3.9,-3.4,-3.2,-3.6,-3.3,-3.0,-3.4,-3.2,-3.5,-3.1,-3.6,-3.9,-3.7,-4.2,-4.5,-4.1,-4.7,-5.0,-4.6,-5.1,-4.7,-4.3,
  -3.9,-3.5,-3.7,-3.3,-3.0,-3.2,-2.8,-3.1,-2.9,-3.3,-3.0,-3.4,-3.7,-4.0,-4.3,-4.0,-4.6,-4.9,-5.1,-4.7,-5.0,-4.6,-4.3,-4.6,-4.1,-3.8,-4.1,-3.6,-3.9,-3.4,-3.1,-3.4,-2.9,-3.2,-3.0,-3.4,-3.2,-3.7,-4.0,-3.7,-4.3,-4.6,-4.2,-4.8,-4.5,-4.1,-4.4,-3.9,-4.2,-3.7,
  -3.4,-3.1,-3.5,-3.2,-3.6,-3.9,-3.6,-4.2,-4.5,-4.2,-4.8,-5.1,-4.8,-5.3,-5.0,-4.6,-4.9,-4.4,-4.1,-4.5,-3.9,-3.7,-4.1,-3.8,-4.3,-4.6,-4.3,-4.9,-4.6,-5.2,-4.9,-5.3,-4.8,-4.4,-4.7,-4.2,-3.9,-4.3,-3.8,-3.5,-3.8,-3.3,-3.6,-3.1,-3.4,-3.0,-2.8,-3.1,-2.9,-3.3,
  -2.9,-2.7,-3.0,-2.8,-3.2,-2.9,-3.3,-3.0,-2.8,-3.1,-2.9,-3.3,-3.6,-3.4,-3.8,-4.1,-3.9,-4.4,-4.7,-4.3,-4.9,-4.6,-4.2,-4.5,-4.0,-4.3,-3.8,-4.1,-3.9,-4.4,-4.1,-4.7,-4.5,-5.0,-4.7,-5.3,-5.0,-5.6,-7.9,-5.5,-5.2,-5.6,-5.0,-4.7,-5.1,-4.5,-4.2,-4.6,-4.0,-4.4,
  -4.7,-4.3,-5.0,-4.6,-5.3,-5.0,-5.6,-5.2,-4.8,-5.1,-4.6,-4.2,-4.6,-4.1,-4.5,-4.9,-4.5,-5.1,-5.4,-5.0,-4.6,-4.9,-4.3,-4.0,-4.4,-3.8,-4.1,-3.7,-4.2,-3.9,-4.4,-4.8,-4.4,-5.0,-5.3,-4.9,-5.5,-5.2,-5.7,-5.3,-4.9,-5.2,-4.7,-4.3,-4.6,-4.1,-3.9,-4.3,-4.6,-4.2,
  -4.7,-5.0,-4.6,-4.3,-4.6,-4.0,-3.8,-4.1,-3.6,-3.9,-4.3,-4.0,-4.6,-4.9,-4.5,-5.1,-4.7,-4.3,-4.0,-4.3,-3.8,-3.5,-3.8,-3.3,-3.1,-3.4,-3.0,-2.8,-3.1,-2.7,-2.9,-2.6,-2.8,-2.5,-2.7,-2.9,-2.6,-2.8,-3.0,-2.7,-3.1,-3.4,-3.2,-3.6,-3.9,-3.7,-4.2,-4.5,-4.3,-4.8,
  -5.1,-5.5,-5.2,-5.8,-6.0,-5.6,-5.3,-4.9,-5.2,-4.7,-4.4,-4.0,-4.3,-3.9,-4.2,-4.6,-4.3,-4.8,-5.1,-4.7,-5.3,-5.6,-5.2,-5.8,-5.4,-5.0,-5.3,-4.8,-4.5,-4.9,-4.3,-4.1,-4.5,-4.8,-4.4,-5.0,-5.3,-4.9,-5.6,-6.0,-6.3,-5.9,-6.1,-5.5,-5.0,-4.7,-5.1,-4.5,-4.2,-4.6
];

// ---- layout ----
var W = 1216,
    H = 611,
    plotTop = 43.3,
    plotBottom = 513.3,
    r = 2.4;

var panels = [
  { title: panelTitles[0], x0: 97.7, x1: 611.7, series: [noProj140491, noProj9606001, noProj9626831], yTitle: true },
  { title: panelTitles[1], x0: 684, x1: 1228, series: [proj140491, proj9606001, proj9626831], yTitle: false }
];

var svg = d3.select('body').append('svg')
    .attr('width', W)
    .attr('height', H);

var y = d3.scaleLog()
    .domain([Math.pow(10, -10.1), Math.pow(10, 14.1)])
    .range([plotBottom, plotTop]);

panels.forEach(function(p) {
    var x = d3.scaleLinear()
        .domain([-35, 735])
        .range([p.x0, p.x1]);

    var g = svg.append('g');

    // points: series drawn in legend order, last one on top
    p.series.forEach(function(vals, si) {
        g.append('g').selectAll('circle')
            .data(vals)
          .enter().append('circle')
            .attr('cx', function(d, i) { return x(i * iterStep) })
            .attr('cy', function(d) { return y(Math.pow(10, d)) })
            .attr('r', r)
            .attr('fill', snpColors[si]);
    });

    g.append('rect')
        .attr('class', 'border')
        .attr('x', p.x0)
        .attr('y', plotTop)
        .attr('width', p.x1 - p.x0)
        .attr('height', plotBottom - plotTop);

    // x axis
    var gx = g.append('g')
        .attr('class', 'axis')
        .attr('transform', 'translate(0,' + plotBottom + ')')
        .call(d3.axisBottom(x).tickValues(xTicks).tickSize(4).tickSizeOuter(0).tickPadding(5));
    gx.selectAll('text')
        .attr('font-size', 24)
        .attr('font-family', null)
        .attr('fill', '#4D4D4D');

    // y axis, labels written as 10 with a superscript exponent
    g.append('g')
        .attr('class', 'axis')
        .attr('transform', 'translate(' + p.x0 + ',0)')
        .call(d3.axisLeft(y)
            .tickValues(yTickExps.map(function(e) { return Math.pow(10, e) }))
            .tickSize(4)
            .tickSizeOuter(0)
            .tickFormat(''));

    var lab = g.selectAll('text.ylab')
        .data(yTickExps)
      .enter().append('text')
        .attr('class', 'ylab')
        .attr('x', p.x0 - 7)
        .attr('y', function(e) { return y(Math.pow(10, e)) + 13 })
        .attr('text-anchor', 'end')
        .attr('fill', '#4D4D4D')
        .attr('font-size', 25);
    lab.append('tspan').text('10');
    lab.append('tspan')
        .attr('dy', -12)
        .attr('font-size', 19)
        .text(function(e) { return e < 0 ? '\u2212' + (-e) : String(e) });

    // titles
    g.append('text')
        .attr('x', (p.x0 + p.x1) / 2)
        .attr('y', 29.5)
        .attr('text-anchor', 'middle')
        .attr('font-weight', 'bold')
        .attr('font-size', 22.5)
        .text(p.title);

    g.append('text')
        .attr('x', (p.x0 + p.x1) / 2)
        .attr('y', 567)
        .attr('text-anchor', 'middle')
        .attr('font-size', 26)
        .text('MCMC Iteration');

    if (p.yTitle) {
        g.append('text')
            .attr('transform', 'translate(33,' + ((plotTop + plotBottom) / 2) + ') rotate(-90)')
            .attr('text-anchor', 'middle')
            .attr('font-size', 26)
            .text('Coefficient Magnitude');
    }
});

// legend
var legend = svg.append('g');
var cursor = 0;
var snpLab = legend.append('text')
    .attr('x', cursor)
    .attr('y', 9)
    .attr('font-size', 25.5)
    .text('SNP');
cursor += snpLab.node().getComputedTextLength() + 16;
snps.forEach(function(s, i) {
    legend.append('circle')
        .attr('cx', cursor + 10)
        .attr('cy', 0)
        .attr('r', 9.5)
        .attr('fill', snpColors[i]);
    cursor += 20 + 13;
    var t = legend.append('text')
        .attr('x', cursor)
        .attr('y', 9)
        .attr('font-size', 25.5)
        .text(s);
    cursor += t.node().getComputedTextLength() + 16;
});
cursor -= 16;
legend.attr('transform', 'translate(' + (616 - cursor / 2) + ',597)');
    </script>
  </body>
</html>
